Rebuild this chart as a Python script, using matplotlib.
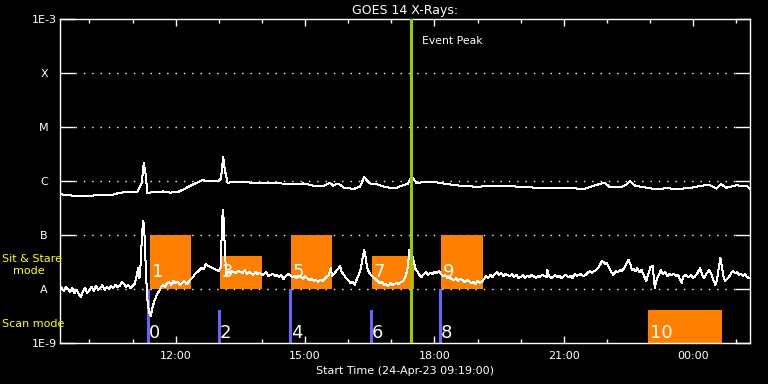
import numpy as np
import matplotlib
matplotlib.use("Agg")
import matplotlib.pyplot as plt
from matplotlib.patches import Rectangle

# ---------------- data ----------------
# long channel (1-8 A), time in hours of 24-Apr-23 (24 = 00:00 next day), flux in units of 1e-7 W/m^2
long_t = [9.32, 9.47, 9.63, 10.01, 10.32, 10.55, 10.71, 10.98, 11.11, 11.16, 11.21, 11.26, 11.31, 11.34,
          11.48, 11.71, 11.87, 12.06, 12.18, 12.41, 12.62, 12.72, 12.99, 13.05, 13.10, 13.14, 13.20, 13.34,
          13.95, 14.26, 14.65, 14.96, 15.19, 15.42, 15.58, 15.65, 15.77, 15.89, 16.12, 16.27, 16.37, 16.50,
          16.66, 16.89, 17.12, 17.39, 17.47, 17.59, 17.74, 17.97, 18.20, 18.51, 18.98, 19.29, 19.60, 19.98,
          20.13, 20.44, 21.14, 21.45, 21.68, 21.87, 21.97, 22.07, 22.30, 22.44, 22.53, 22.65, 22.92, 23.15,
          23.38, 23.61, 23.92, 24.15, 24.38, 24.54, 24.64, 24.77, 25.00, 25.24, 25.31]
long_f = [5.7, 5.5, 5.35, 5.35, 5.5, 5.6, 6.1, 6.2, 6.3, 7.5, 9.1, 22.0, 12.0, 5.9,
          6.3, 6.4, 6.1, 6.3, 7.0, 8.7, 10.4, 9.9, 9.9, 11.2, 27.5, 16.0, 9.3, 9.5,
          9.3, 9.2, 8.8, 9.0, 8.2, 8.1, 9.2, 8.2, 9.0, 7.6, 7.1, 7.8, 11.7, 9.0,
          8.7, 7.6, 7.5, 9.0, 12.4, 9.0, 9.6, 9.7, 9.0, 8.3, 7.8, 8.1, 8.2, 7.8,
          7.8, 7.3, 7.5, 7.0, 8.1, 9.0, 9.0, 7.6, 7.6, 8.4, 10.0, 8.2, 7.5, 7.0,
          7.4, 7.1, 7.4, 8.1, 8.5, 7.2, 8.8, 7.5, 8.3, 8.1, 7.3]

# short channel (0.5-4 A), flux in units of 1e-8 W/m^2
short_t = [9.32, 9.40, 9.45, 9.50, 9.55, 9.60, 9.65, 9.70, 9.75, 9.80, 9.85, 9.90, 9.95, 10.00, 10.05,
           10.10, 10.15, 10.20, 10.25, 10.30, 10.35, 10.40, 10.45, 10.50, 10.55, 10.60, 10.65, 10.70, 10.75,
           10.80, 10.85, 10.90, 10.95, 11.00, 11.05, 11.10, 11.13, 11.16, 11.19, 11.22, 11.25, 11.28, 11.31,
           11.34, 11.38, 11.42, 11.46, 11.50, 11.55, 11.60, 11.65, 11.70, 11.75, 11.80, 11.85, 11.90, 11.95,
           12.00, 12.05, 12.10, 12.15, 12.20, 12.25, 12.30, 12.35, 12.40, 12.45, 12.50, 12.55, 12.60, 12.65,
           12.70, 12.75, 12.80, 12.85, 12.90, 12.95, 13.00, 13.04, 13.07, 13.09, 13.11, 13.14, 13.17, 13.20,
           13.25, 13.30, 13.35, 13.40, 13.45, 13.50, 13.55, 13.60, 13.65, 13.70, 13.75, 13.80, 13.85, 13.90,
           13.95, 14.00, 14.05, 14.10, 14.15, 14.20, 14.25, 14.30, 14.35, 14.40, 14.45, 14.50, 14.55, 14.60,
           14.65, 14.70, 14.75, 14.80, 14.85, 14.90, 14.95, 15.00, 15.05, 15.10, 15.15, 15.20, 15.25, 15.30,
           15.35, 15.40, 15.45, 15.50, 15.55, 15.59, 15.63, 15.67, 15.72, 15.77, 15.81, 15.85, 15.90, 15.95,
           16.00, 16.05, 16.10, 16.15, 16.20, 16.25, 16.30, 16.34, 16.37, 16.40, 16.44, 16.48, 16.53, 16.58,
           16.63, 16.68, 16.73, 16.78, 16.83, 16.88, 16.93, 16.98, 17.03, 17.08, 17.13, 17.18, 17.23, 17.28,
           17.33, 17.37, 17.40, 17.42, 17.45, 17.48, 17.52, 17.56, 17.60, 17.65, 17.70, 17.75, 17.80, 17.85,
           17.90, 17.95, 18.00, 18.05, 18.10, 18.15, 18.20, 18.25, 18.30, 18.35, 18.40, 18.45, 18.50, 18.55,
           18.60, 18.65, 18.70, 18.75, 18.80, 18.85, 18.90, 18.95, 19.00, 19.05, 19.10, 19.15, 19.20, 19.25,
           19.30, 19.35, 19.40, 19.45, 19.50, 19.55, 19.60, 19.65, 19.70, 19.75, 19.80, 19.85, 19.90, 19.95,
           20.00, 20.05, 20.10, 20.15, 20.20, 20.25, 20.30, 20.35, 20.40, 20.45, 20.50, 20.55, 20.60, 20.62,
           20.65, 20.70, 20.75, 20.80, 20.85, 20.90, 20.95, 21.00, 21.05, 21.10, 21.15, 21.20, 21.25, 21.30,
           21.35, 21.40, 21.45, 21.50, 21.55, 21.60, 21.65, 21.70, 21.75, 21.80, 21.85, 21.88, 21.92, 21.96,
           22.00, 22.05, 22.10, 22.15, 22.20, 22.25, 22.30, 22.35, 22.40, 22.45, 22.50, 22.54, 22.58, 22.62,
           22.66, 22.70, 22.75, 22.80, 22.85, 22.91, 22.96, 23.01, 23.06, 23.09, 23.11, 23.15, 23.20, 23.25,
           23.30, 23.35, 23.40, 23.45, 23.50, 23.55, 23.60, 23.65, 23.70, 23.73, 23.77, 23.81, 23.85, 23.90,
           23.95, 24.00, 24.05, 24.10, 24.16, 24.21, 24.25, 24.30, 24.37, 24.42, 24.47, 24.51, 24.55, 24.59,
           24.63, 24.67, 24.71, 24.74, 24.78, 24.83, 24.88, 24.92, 24.97, 25.02, 25.06, 25.10, 25.15, 25.20,
           25.24, 25.30]
short_f = [1.14, 0.92, 1.09, 1.00, 0.88, 1.04, 0.84, 0.96, 0.81, 0.71, 0.92, 1.04, 0.84, 0.96, 1.09,
           0.92, 1.14, 0.96, 1.04, 1.19, 0.96, 1.09, 1.00, 1.14, 1.04, 1.19, 1.09, 1.14, 1.35,
           1.24, 1.09, 1.19, 1.04, 1.14, 1.24, 1.80, 2.45, 1.60, 3.20, 11.0, 18.0, 9.0, 2.0,
           0.68, 0.36, 0.32, 0.45, 0.58, 0.74, 0.88, 1.04, 1.19, 1.09, 1.29, 1.35, 1.19, 1.41,
           1.29, 1.35, 1.19, 1.29, 1.41, 1.24, 1.35, 1.53, 1.67, 1.90, 2.06, 2.25, 2.45, 2.35,
           2.90, 2.67, 2.56, 2.45, 2.35, 2.25, 2.15, 2.56, 12.0, 29.0, 20.0, 5.5, 1.74, 2.06,
           1.98, 2.15, 2.06, 1.98, 2.15, 2.06, 1.98, 2.25, 1.90, 2.06, 1.98, 1.82, 2.06, 1.90,
           1.98, 1.82, 1.90, 2.06, 1.74, 1.82, 1.90, 1.74, 1.82, 1.67, 1.82, 1.53, 1.74, 1.90,
           1.82, 1.67, 1.74, 1.60, 1.74, 1.67, 1.53, 1.74, 1.60, 1.47, 1.53, 1.41, 1.47, 1.35,
           1.47, 1.41, 1.53, 1.67, 1.82, 2.45, 1.74, 1.90, 2.15, 2.35, 2.67, 2.06, 1.82, 1.60,
           1.47, 1.29, 1.35, 1.19, 1.53, 1.90, 2.56, 4.0, 5.4, 4.0, 2.45, 2.06, 1.82, 1.67,
           1.53, 1.41, 1.29, 1.35, 1.19, 1.24, 1.14, 1.29, 1.19, 1.24, 1.29, 1.24, 1.35, 1.41,
           1.74, 2.20, 3.6, 5.3, 4.5, 4.26, 3.2, 2.35, 2.15, 1.82, 1.67, 1.90, 2.06, 1.82,
           1.98, 1.90, 2.06, 1.98, 2.15, 1.90, 1.74, 1.82, 1.60, 1.67, 1.53, 1.47, 1.60, 1.41,
           1.53, 1.47, 1.35, 1.47, 1.41, 1.29, 1.35, 1.24, 1.41, 1.29, 1.35, 1.53, 1.74, 1.60,
           1.82, 1.67, 1.90, 2.06, 1.82, 1.98, 1.74, 1.90, 1.82, 1.74, 1.90, 1.67, 1.82, 1.60,
           1.67, 1.82, 1.60, 1.74, 1.67, 1.82, 1.74, 1.60, 1.74, 1.67, 1.82, 1.74, 1.67, 2.25,
           1.74, 1.60, 1.67, 1.82, 1.67, 1.74, 1.60, 1.74, 1.82, 1.67, 1.74, 1.60, 1.90, 1.74,
           1.82, 1.90, 1.74, 1.82, 1.98, 2.15, 1.98, 2.15, 2.25, 2.45, 2.90, 3.30, 3.16, 2.90,
           3.0, 2.45, 2.06, 1.82, 2.15, 2.06, 2.25, 2.15, 2.45, 2.90, 3.44, 2.90, 2.25, 2.35,
           2.15, 2.45, 2.06, 2.25, 1.82, 1.41, 1.90, 2.56, 2.67, 1.53, 1.04, 1.47, 1.82, 2.25,
           1.90, 2.06, 1.74, 1.90, 1.82, 1.90, 1.74, 1.82, 1.47, 1.29, 1.67, 1.82, 1.74, 1.67,
           1.82, 1.60, 1.74, 1.98, 2.45, 1.82, 1.60, 1.90, 2.25, 1.90, 1.47, 1.19, 1.47, 2.45,
           3.75, 2.45, 1.60, 1.41, 1.53, 1.67, 1.98, 2.15, 1.98, 2.06, 1.82, 1.90, 1.74, 1.90,
           1.67, 1.60]

# observations: number, start, end (hours), mode, top flux
obs_num   = [0, 1, 2, 3, 4, 5, 6, 7, 8, 9, 10]
obs_start = [11.33, 11.40, 12.98, 13.03, 14.63, 14.67, 16.51, 16.55, 18.11, 18.15, 22.95]
obs_end   = [11.40, 12.35, 13.04, 13.99, 14.69, 15.62, 16.57, 17.52, 18.17, 19.12, 24.66]
obs_mode  = ["scan", "sit", "scan", "sit", "scan", "sit", "scan", "sit", "scan", "sit", "scan10"]
obs_top   = [1e-8, 1e-7, 4e-9, 4e-8, 1e-8, 1e-7, 4e-9, 4e-8, 1e-8, 1e-7, 4e-9]

event_peak = 17.45
t_range = (9.3167, 25.3167)

ytick_vals = [1e-9, 1e-8, 1e-7, 1e-6, 1e-5, 1e-4, 1e-3]
ytick_labels = ["1E-9", "A", "B", "C", "M", "X", "1E-3"]
xtick_vals = [12, 15, 18, 21, 24]
xtick_labels = ["12:00", "15:00", "18:00", "21:00", "00:00"]
xminor_vals = [10, 11, 13, 14, 16, 17, 19, 20, 22, 23, 25]

# ---------------- plot ----------------
W, H = 768, 384
fig = plt.figure(figsize=(W / 100, H / 100), dpi=100, facecolor="black")
ax = fig.add_axes([60 / W, 1 - 343 / H, 690 / W, 324 / H], facecolor="black")
ax.set_yscale("log")
ax.set_ylim(1e-9, 1e-3)
ax.set_xlim(*t_range)

for s in ax.spines.values():
    s.set_color("white")
    s.set_linewidth(1.0)

# dotted class lines
for v in ytick_vals[1:-1]:
    ax.axhline(v, xmin=0.022, xmax=0.978, color="white", lw=1.0, ls=(0, (1, 5)), zorder=1)

orange = "#ff8000"
blue = "#6464ff"
for n, s, e, m, top in zip(obs_num, obs_start, obs_end, obs_mode, obs_top):
    if m == "sit":
        bottom, color, ylab = 1e-8, orange, 2.06e-8
    elif m == "scan":
        bottom, color, ylab = 1e-9, blue, 1.5e-9
    else:
        bottom, color, ylab = 1e-9, orange, 1.5e-9
    ax.add_patch(Rectangle((s, bottom), e - s, top - bottom, facecolor=color,
                           edgecolor="none", zorder=2))
    ax.text(s + 0.04, ylab, str(n), color="white", fontsize=13, ha="left",
            va="center", zorder=5)

ax.plot(long_t, np.array(long_f) * 1e-7, color="white", lw=0.72, zorder=3, antialiased=False)
ax.plot(short_t, np.array(short_f) * 1e-8, color="white", lw=0.72, zorder=3, antialiased=False)

ax.axvline(event_peak, color="#99cc00", lw=2.2, zorder=6)
ax.text(event_peak + 0.25, 10 ** -3.4, "Event Peak", color="white", fontsize=7.8,
        ha="left", va="center")

ax.set_yticks(ytick_vals)
ax.set_yticklabels(ytick_labels)
ax.yaxis.set_minor_locator(matplotlib.ticker.NullLocator())
ax.tick_params(axis="y", which="major", direction="in", length=11, width=1.0,
               colors="white", left=True, right=True, labelsize=8, pad=11.5)
for lab in ax.get_yticklabels():
    lab.set_horizontalalignment("center")

ax.set_xticks(xtick_vals)
ax.set_xticklabels(xtick_labels)
ax.set_xticks(xminor_vals, minor=True)
ax.tick_params(axis="x", which="major", direction="in", length=5, width=1.0,
               colors="white", top=True, bottom=True, labelsize=8, pad=6)
ax.tick_params(axis="x", which="minor", direction="in", length=3, width=1.0,
               colors="white", top=True, bottom=True)

ax.set_title("GOES 14 X-Rays:", color="white", fontsize=9, pad=3.5)
ax.set_xlabel("Start Time (24-Apr-23 09:19:00)", color="white", fontsize=8, labelpad=3)

yellow = "#ffff00"
fig.text(2 / W, 1 - 259 / H, "Sit & Stare", color=yellow, fontsize=8, ha="left", va="center")
fig.text(13 / W, 1 - 271 / H, "mode", color=yellow, fontsize=8, ha="left", va="center")
fig.text(2 / W, 1 - 324 / H, "Scan mode", color=yellow, fontsize=8, ha="left", va="center")

fig.savefig("out.png", dpi=100, facecolor="black")
